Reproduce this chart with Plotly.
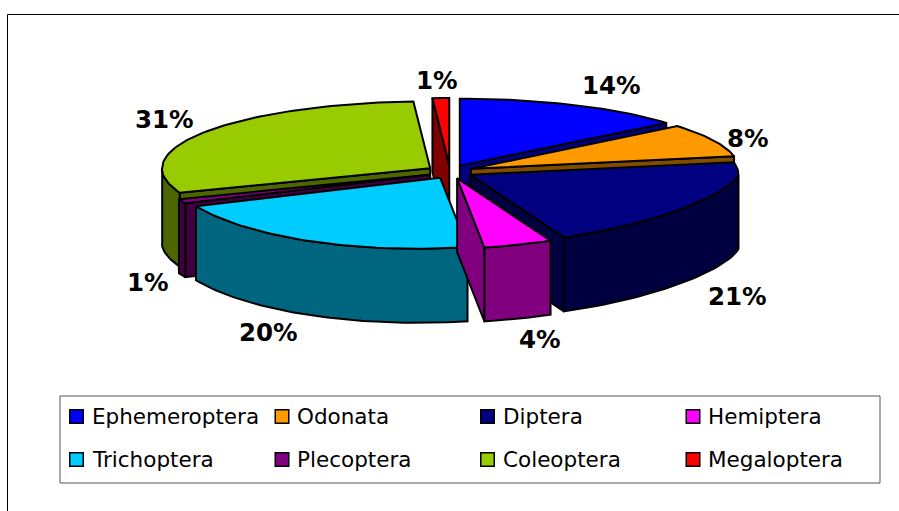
import math
import plotly.graph_objects as go

# Data
categories = ["Ephemeroptera", "Odonata", "Diptera", "Hemiptera",
              "Trichoptera", "Plecoptera", "Coleoptera", "Megaloptera"]
percent_values = [14, 8, 21, 4, 20, 1, 31, 1]

# Styles
top_colors = ["#0000FF", "#FF9900", "#000080", "#FF00FF",
              "#00CCFF", "#800080", "#99CC00", "#FF0000"]
wall_colors = ["#000080", "#804D00", "#000040", "#800080",
               "#006680", "#400040", "#4D6600", "#800000"]
draw_order = [0, 7, 6, 1, 5, 2, 4, 3]  # back to front
label_nudges = [(38, -20), (35, -2), (39, 90), (22, 95),
                (-37, 91), (-32, 76), (-35, -15), (-4, -18)]

# Pie projection (pixel-valued axes)
CX, CY = 450, 171.7
EX, EY = 23, 6.7
RX, RY_BACK, RY_FRONT = 268, 67, 71
FRONT_POWER = 1.25
SHEAR = 0.33
DEPTH = 74
FONT = "DejaVu Sans"

total = sum(percent_values)
bounds = [0]
for v in percent_values:
    bounds.append(bounds[-1] + 360 * v / total)


def rim(apex, deg, drop=0):
    a = math.radians(deg)
    s, c = math.sin(a), math.cos(a)
    if c >= 0:
        return apex[0] + RX * s, apex[1] - RY_BACK * c + drop
    dy = RY_FRONT * abs(c) ** FRONT_POWER
    return apex[0] + RX * s - SHEAR * dy, apex[1] + dy + drop


def arc(apex, a0, a1, drop=0):
    n = max(2, int(abs(a1 - a0) / 1.5) + 1)
    return [rim(apex, a0 + (a1 - a0) * i / (n - 1), drop) for i in range(n)]


def polygon(points, color):
    xs = [p[0] for p in points] + [points[0][0]]
    ys = [p[1] for p in points] + [points[0][1]]
    return go.Scatter(x=xs, y=ys, mode="lines", fill="toself", fillcolor=color,
                      line=dict(color="black", width=2), hoverinfo="skip",
                      showlegend=False)


fig = go.Figure()
apexes, mids = [], []
for i in range(len(categories)):
    mid = math.radians((bounds[i] + bounds[i + 1]) / 2)
    apexes.append((CX + EX * math.sin(mid), CY - EY * math.cos(mid)))
    mids.append(math.degrees(mid))

for i in draw_order:
    apex, a0, a1 = apexes[i], bounds[i], bounds[i + 1]
    low = (apex[0], apex[1] + DEPTH)
    if math.sin(math.radians(a1)) > 0:       # end cut faces the viewer
        r, rl = rim(apex, a1), rim(apex, a1, DEPTH)
        fig.add_trace(polygon([apex, r, rl, low], wall_colors[i]))
    if math.sin(math.radians(a0)) < 0:       # start cut faces the viewer
        r, rl = rim(apex, a0), rim(apex, a0, DEPTH)
        fig.add_trace(polygon([apex, r, rl, low], wall_colors[i]))
    w0, w1 = max(a0, 90), min(a1, 270)
    if w1 > w0:                              # outer wall, front half only
        upper = arc(apex, w0, w1)
        lower = arc(apex, w1, w0, DEPTH)
        fig.add_trace(polygon(upper + lower, wall_colors[i]))
    fig.add_trace(polygon([apex] + arc(apex, a0, a1), top_colors[i]))

annotations = []
for i, v in enumerate(percent_values):
    a = math.radians(mids[i])
    base_dy = 70 * -math.cos(a) if math.cos(a) < 0 else -RY_BACK * math.cos(a)
    x = apexes[i][0] + RX * math.sin(a) - 0.33 * max(base_dy, 0)
    y = apexes[i][1] + base_dy
    annotations.append(dict(x=x + label_nudges[i][0], y=y + label_nudges[i][1],
                            text=f"<b>{v}%</b>", showarrow=False,
                            font=dict(family=FONT, size=24.5, color="black"),
                            xanchor="center", yanchor="middle"))

# Legend panel
legend_x, legend_y = [], []
for i, name in enumerate(categories):
    col, row = i % 4, i // 4
    lx = 76.5 + 205.5 * col
    ly = 416.5 + 43 * row
    legend_x.append(lx)
    legend_y.append(ly)
    annotations.append(dict(x=lx + 13, y=ly, text=name, showarrow=False,
                            font=dict(family=FONT, size=21.5, color="black"),
                            xanchor="left", yanchor="middle"))
fig.add_trace(go.Scatter(x=legend_x, y=legend_y, mode="markers",
                         marker=dict(symbol="square", size=13.5, color=top_colors,
                                     line=dict(color="black", width=1.5)),
                         hoverinfo="skip", showlegend=False))

shapes = [
    dict(type="rect", x0=60, y0=396, x1=880, y1=483,
         line=dict(color="#555555", width=1), fillcolor="rgba(0,0,0,0)", layer="below"),
    dict(type="line", x0=7.5, y0=14.5, x1=899, y1=14.5, line=dict(color="black", width=1)),
    dict(type="line", x0=7.5, y0=14.5, x1=7.5, y1=511, line=dict(color="black", width=1)),
]

fig.update_layout(
    width=899, height=511, autosize=False,
    margin=dict(l=0, r=0, t=0, b=0),
    paper_bgcolor="white", plot_bgcolor="white",
    xaxis=dict(range=[0, 899], visible=False, fixedrange=True),
    yaxis=dict(range=[511, 0], visible=False, fixedrange=True),
    showlegend=False, annotations=annotations, shapes=shapes,
)
fig.write_html("out.html", config=dict(displayModeBar=False),
               post_script="document.body.style.margin='0';document.body.style.overflow='hidden';")
